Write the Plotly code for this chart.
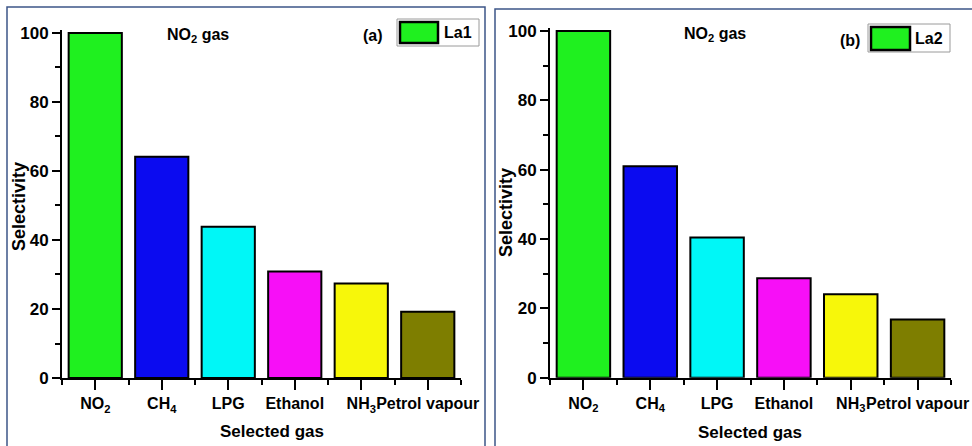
import plotly.graph_objects as go

# Gas selectivity of the La1 and La2 sensors towards NO2
gases = ["NO<sub>2</sub>", "CH<sub>4</sub>", "LPG", "Ethanol", "NH<sub>3</sub>", "Petrol vapour"]
selectivity_la1 = [100, 64.1, 43.8, 30.9, 27.4, 19.2]
selectivity_la2 = [100, 61.0, 40.4, 28.7, 24.1, 16.8]
bar_colors = ["#1ff01f", "#0b0bf0", "#00f7f7", "#f70ff7", "#f7f70a", "#7e7e00"]
y_ticks = [0, 20, 40, 60, 80, 100]

W, H = 972, 446
FONT = "Liberation Sans, Arial, sans-serif"


def fx(px):
    return px / W


def fy(py):
    return 1 - py / H


positions = list(range(len(gases)))
boundaries = [i - 0.5 for i in range(len(gases) + 1)]

fig = go.Figure()

panels = [
    dict(vals=selectivity_la1, name="La1", tag="(a)", xa="x", ya="y",
         xdom=[fx(62), fx(461)], ydom=[fy(378), fy(29.5)]),
    dict(vals=selectivity_la2, name="La2", tag="(b)", xa="x2", ya="y2",
         xdom=[fx(550), fx(951)], ydom=[fy(377.7), fy(27.5)]),
]

axis_common = dict(showgrid=False, zeroline=False, showline=True, linecolor="black",
                   linewidth=2, ticks="outside", tickwidth=2, tickcolor="black",
                   automargin=False)

for i, p in enumerate(panels):
    fig.add_trace(go.Bar(
        x=positions, y=p["vals"], width=0.8, xaxis=p["xa"], yaxis=p["ya"],
        marker=dict(color=bar_colors, line=dict(color="black", width=2)),
        name=p["name"], showlegend=False, hoverinfo="y",
    ))
    suffix = "" if i == 0 else str(i + 1)
    fig.layout["xaxis" + suffix] = dict(
        axis_common, domain=p["xdom"], anchor=p["ya"], range=[-0.5, 5.5],
        tickmode="array", tickvals=positions, ticktext=gases, ticklen=10, tickangle=0,
        tickfont=dict(family=FONT, size=16, color="black", weight="bold"),
        minor=dict(tickmode="array", tickvals=boundaries, ticks="outside",
                   ticklen=5, tickwidth=2, tickcolor="black"),
    )
    fig.layout["yaxis" + suffix] = dict(
        axis_common, domain=p["ydom"], anchor=p["xa"], range=[0, 101],
        tickmode="array", tickvals=y_ticks, ticklen=8,
        tickfont=dict(family=FONT, size=17, color="black", weight="bold"),
        minor=dict(dtick=10, ticks="outside", ticklen=5, tickwidth=2, tickcolor="black"),
    )

shapes = []
annotations = []


def text(x, y, s, size=16, angle=0, xanchor="center"):
    annotations.append(dict(
        x=fx(x), y=fy(y), xref="paper", yref="paper", text=s, showarrow=False,
        xanchor=xanchor, yanchor="middle", textangle=angle,
        font=dict(family=FONT, size=size, color="black", weight="bold"),
    ))


# Panel frames (the right panel runs off the page edge)
frame_paths = [
    f"M {fx(7)},0 L {fx(7)},{fy(7)} L {fx(485)},{fy(7)} L {fx(485)},0",
    f"M {fx(495)},0 L {fx(495)},{fy(9)} L 1,{fy(9)}",
]
for path in frame_paths:
    shapes.append(dict(type="path", xref="paper", yref="paper", path=path,
                       line=dict(color="#3d5688", width=1.5)))

# Titles, panel tags and legends
layout_items = [
    dict(title_x=198, title_y=35, tag_x=373, tag_y=35,
         box=(397, 19, 479, 46), sw=(400, 22, 438, 43), lab_x=442),
    dict(title_x=715, title_y=34, tag_x=850, tag_y=40,
         box=(868, 24, 950, 52), sw=(871, 27, 910, 50), lab_x=913),
]
for p, li in zip(panels, layout_items):
    text(li["title_x"], li["title_y"], "NO<sub>2</sub> gas", size=16)
    text(li["tag_x"], li["tag_y"], p["tag"], size=16)
    bx0, by0, bx1, by1 = li["box"]
    shapes.append(dict(type="rect", xref="paper", yref="paper",
                       x0=fx(bx0), x1=fx(bx1), y0=fy(by1), y1=fy(by0),
                       line=dict(color="#9a9a9a", width=1), fillcolor="white"))
    sx0, sy0, sx1, sy1 = li["sw"]
    shapes.append(dict(type="rect", xref="paper", yref="paper",
                       x0=fx(sx0), x1=fx(sx1), y0=fy(sy1), y1=fy(sy0),
                       line=dict(color="black", width=2.5), fillcolor=bar_colors[0]))
    text(li["lab_x"], (by0 + by1) / 2, p["name"], size=16, xanchor="left")

# Axis titles
text(19, 207, "Selectivity", size=18, angle=-90)
text(506, 213, "Selectivity", size=18, angle=-90)
text(272, 431, "Selected gas", size=17)
text(750, 432, "Selected gas", size=17)

fig.update_layout(
    width=W, height=H, margin=dict(l=0, r=0, t=0, b=0),
    paper_bgcolor="white", plot_bgcolor="white",
    shapes=shapes, annotations=annotations, bargap=0.2,
)

fig.write_html("out.html")
